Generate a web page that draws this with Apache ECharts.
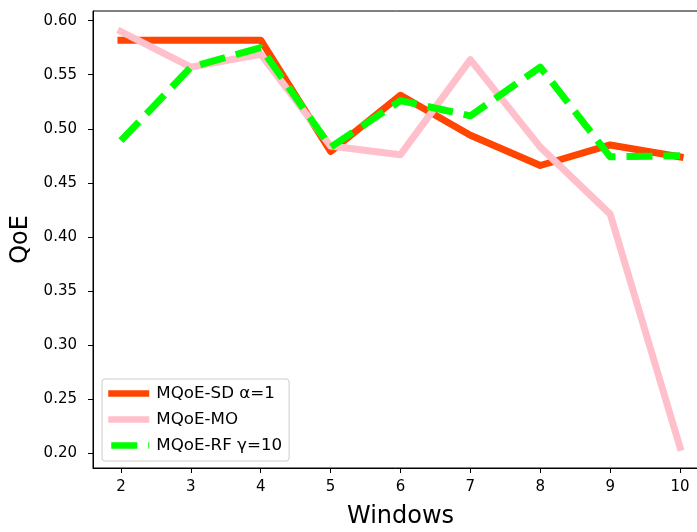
<!DOCTYPE html>
<html>
<head>
<meta charset="utf-8">
<script src="https://cdn.jsdelivr.net/npm/echarts@6/dist/echarts.min.js"></script>
<style>html,body{margin:0;padding:0;background:#fff;}#c{width:697px;height:532px;}</style>
</head>
<body>
<div id="c"></div>
<script>
const windows = [2, 3, 4, 5, 6, 7, 8, 9, 10];
const sdValues = [0.582, 0.582, 0.582, 0.479, 0.531, 0.494, 0.466, 0.485, 0.474];
const moValues = [0.590, 0.557, 0.569, 0.484, 0.476, 0.564, 0.483, 0.421, 0.205];
const rfValues = [0.489, 0.557, 0.575, 0.483, 0.526, 0.512, 0.557, 0.474, 0.475];
const xTicks = [2, 3, 4, 5, 6, 7, 8, 9, 10];
const yTicks = [0.20, 0.25, 0.30, 0.35, 0.40, 0.45, 0.50, 0.55, 0.60];
const seriesNames = ['MQoE-SD α=1', 'MQoE-MO', 'MQoE-RF γ=10'];

const font = 'DejaVu Sans';
const pair = (vals) => windows.map((w, i) => [w, vals[i]]);

const chart = echarts.init(document.getElementById('c'), null, {renderer: 'canvas'});
chart.setOption({
  animation: false,
  backgroundColor: '#fff',
  grid: {
    left: 93, top: 11, width: 615, height: 457,
    containLabel: false, outerBoundsMode: 'none',
    show: true, borderColor: '#000', borderWidth: 1, backgroundColor: 'transparent'
  },
  xAxis: {
    type: 'value', min: 1.6, max: 10.4,
    name: 'Windows', nameLocation: 'middle', nameGap: 37,
    nameTextStyle: {fontFamily: font, fontSize: 24, color: '#000'},
    axisLine: {show: true, onZero: false, lineStyle: {color: '#000', width: 1}},
    axisTick: {show: true, inside: false, length: 5, customValues: xTicks, lineStyle: {color: '#000'}},
    axisLabel: {customValues: xTicks, margin: 12, fontFamily: font, fontSize: 15, color: '#000'},
    splitLine: {show: false}
  },
  yAxis: {
    type: 'value', min: 0.186, max: 0.609,
    name: 'QoE', nameLocation: 'middle', nameGap: 57,
    nameTextStyle: {fontFamily: font, fontSize: 24, color: '#000'},
    axisLine: {show: true, onZero: false, lineStyle: {color: '#000', width: 1}},
    axisTick: {show: true, inside: false, length: 5, customValues: yTicks, lineStyle: {color: '#000'}},
    axisLabel: {customValues: yTicks, margin: 16, fontFamily: font, fontSize: 15, color: '#000',
      padding: [5, 0, 0, 0], formatter: (v) => v.toFixed(2)},
    splitLine: {show: false}
  },
  legend: {
    orient: 'vertical', left: 102, top: 379,
    data: seriesNames,
    itemWidth: 41, itemHeight: 7, itemGap: 9,
    padding: [6, 7, 7, 3],
    backgroundColor: 'rgba(255,255,255,0.8)', borderColor: '#cccccc', borderWidth: 1, borderRadius: 3,
    itemStyle: {opacity: 0},
    lineStyle: {width: 6.5, cap: 'butt', dashOffset: -3},
    textStyle: {fontFamily: font, fontSize: 16.7, color: '#000', lineHeight: 16, padding: [0, 0, 0, 2]}
  },
  series: [
    {name: seriesNames[0], type: 'line', data: pair(sdValues), showSymbol: false, symbol: 'none',
      lineStyle: {color: '#FF4500', width: 7, cap: 'square', join: 'round'}, itemStyle: {color: '#FF4500'}, z: 2},
    {name: seriesNames[1], type: 'line', data: pair(moValues), showSymbol: false, symbol: 'none',
      lineStyle: {color: '#FFC0CB', width: 7, cap: 'square', join: 'round'}, itemStyle: {color: '#FFC0CB'}, z: 3},
    {name: seriesNames[2], type: 'line', data: pair(rfValues), showSymbol: false, symbol: 'none',
      lineStyle: {color: '#00FF00', width: 7, type: [26, 11], cap: 'butt', join: 'round'}, itemStyle: {color: '#00FF00'}, z: 4}
  ]
});
</script>
</body>
</html>
